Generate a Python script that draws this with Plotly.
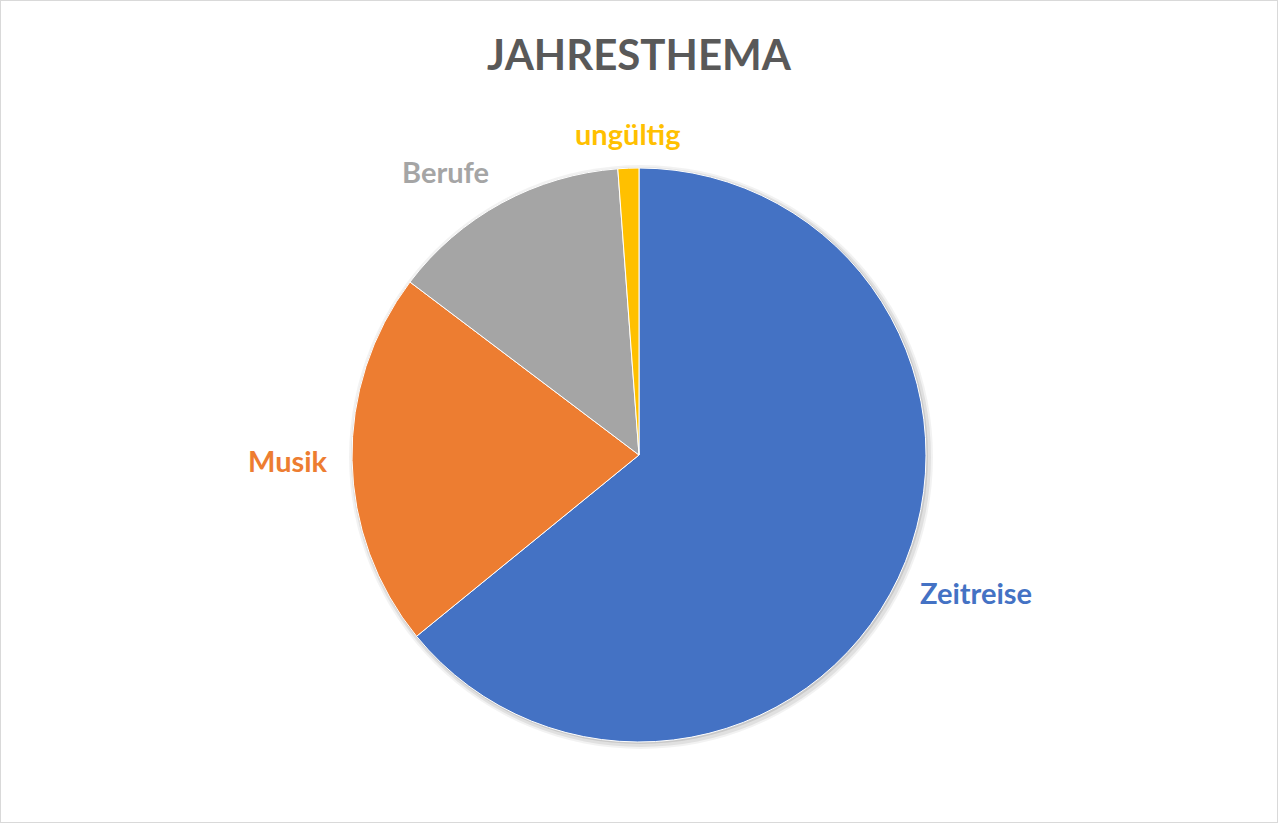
import numpy as np
import plotly.graph_objects as go

# Jahresthema votes
themen = ["Zeitreise", "Musik", "Berufe", "ungültig"]
stimmen = [109, 36, 23, 2]
farben = ["#4472C4", "#ED7D31", "#A5A5A5", "#FFC000"]

W, H = 1278, 823
CX, CY, R = 639, 455, 287  # pie centre and radius in pixels
GAP = 22                   # label distance outside the rim


def domain(cx, cy, r):
    return dict(x=[(cx - r) / W, (cx + r) / W], y=[1 - (cy + r) / H, 1 - (cy - r) / H])


fig = go.Figure()

# soft drop shadow behind the pie
for grow, dx, alpha in [(5, 2, 0.05), (3, 2, 0.07), (1, 1, 0.10)]:
    fig.add_trace(go.Pie(
        values=[1], marker=dict(colors=[f"rgba(0,0,0,{alpha})"], line=dict(width=0)),
        textinfo="none", hoverinfo="skip", showlegend=False,
        domain=domain(CX + dx, CY + dx, R + grow),
    ))

fig.add_trace(go.Pie(
    labels=themen, values=stimmen, sort=False, direction="clockwise", rotation=0,
    marker=dict(colors=farben, line=dict(color="white", width=1)),
    textinfo="none", hoverinfo="label+value+percent", showlegend=False,
    domain=domain(CX, CY, R),
))

# labels outside the slices, placed along each slice's middle angle
anteile = np.array(stimmen) / sum(stimmen)
mitte = (np.cumsum(anteile) - anteile / 2) * 2 * np.pi
for name, farbe, a in zip(themen, farben, mitte):
    sx, sy = np.sin(a), np.cos(a)
    px = CX + (R + GAP) * sx
    py = CY - (R + GAP) * sy
    xa = "center" if abs(sx) < 0.15 else ("left" if sx > 0 else "right")
    if abs(sy) < 0.3:
        ya, shift = "middle", 0
    elif sy > 0:
        ya, shift = "bottom", -7   # text box is taller than the glyphs
    else:
        ya, shift = "top", 15
    fig.add_annotation(
        x=px / W, y=1 - py / H, xref="paper", yref="paper",
        text=f"<b>{name}</b>", showarrow=False, xanchor=xa, yanchor=ya, yshift=shift,
        font=dict(family="Lato", size=29, color=farbe),
    )

fig.update_layout(
    width=W, height=H,
    margin=dict(l=0, r=0, t=0, b=0, autoexpand=False),
    paper_bgcolor="white",
    title=dict(text="<b>JAHRESTHEMA</b>", x=0.5, xanchor="center", y=0.933, yanchor="middle",
               font=dict(family="Lato", size=42, color="#595959")),
    shapes=[dict(type="rect", xref="paper", yref="paper", x0=0, y0=0, x1=1, y1=1,
                 line=dict(color="#D9D9D9", width=2))],
)

# no page margin, so the 1278x823 figure fills the window exactly
fig.write_html("out.html", config={"displayModeBar": False},
               post_script="document.body.style.margin='0';")
